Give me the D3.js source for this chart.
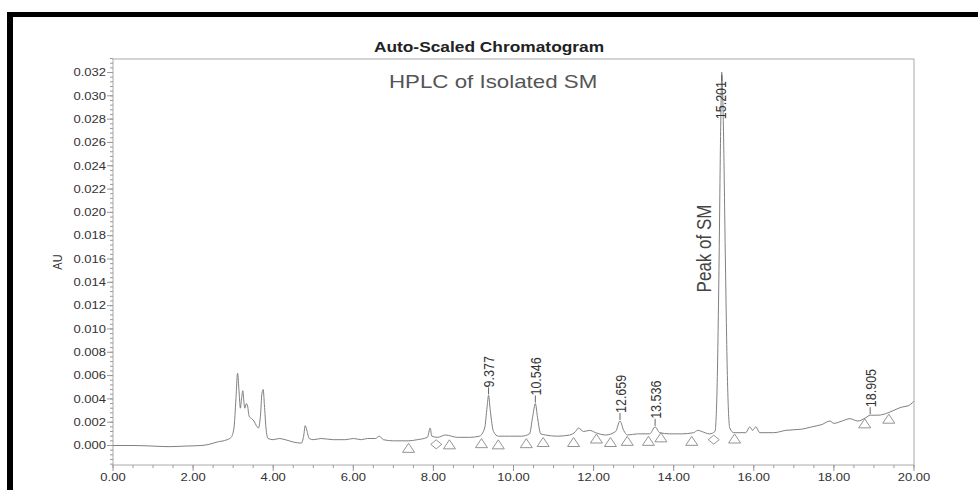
<!DOCTYPE html>
<html>
<head>
<meta charset="utf-8">
<script src="https://cdn.jsdelivr.net/npm/d3@7"></script>
<style>
  body { margin: 0; background: #fff; }
  svg { display: block; font-family: "Liberation Sans", Arial, sans-serif; }
</style>
</head>
<body>
<svg id="chart" width="978" height="490"></svg>
<script>
/************************************************************/
/**
    data
*/

// retention time (min) and absorbance (AU) of the trace
const times = [0.00, 0.50, 1.00, 1.40, 1.80, 2.20, 2.40, 2.60, 2.85, 2.95, 3.02, 3.07, 3.11, 3.15, 3.18,
  3.21, 3.24, 3.27, 3.29, 3.33, 3.36, 3.40, 3.46, 3.52, 3.58, 3.63, 3.68, 3.72, 3.75, 3.78, 3.82, 3.87,
  4.00, 4.15, 4.30, 4.50, 4.70, 4.76, 4.80, 4.84, 4.90, 5.00, 5.20, 5.50, 5.80, 6.00, 6.20, 6.35, 6.55,
  6.65, 6.75, 7.00, 7.37, 7.60, 7.85, 7.92, 7.96, 8.10, 8.30, 8.60, 8.90, 9.15, 9.28, 9.34, 9.377, 9.42,
  9.50, 9.62, 9.90, 10.20, 10.40, 10.48, 10.546, 10.60, 10.68, 10.80, 11.10, 11.40, 11.55, 11.62, 11.75,
  11.90, 12.05, 12.30, 12.55, 12.659, 12.75, 12.85, 13.10, 13.40, 13.536, 13.65, 13.90, 14.20, 14.50,
  14.60, 14.70, 14.90, 15.03, 15.08, 15.13, 15.17, 15.201, 15.24, 15.29, 15.34, 15.40, 15.50, 15.80,
  15.90, 15.97, 16.05, 16.15, 16.50, 16.80, 17.20, 17.45, 17.70, 17.90, 18.00, 18.20, 18.40, 18.60,
  18.80, 18.905, 19.10, 19.35, 19.55, 19.70, 19.85, 20.00];
const absorb = [0.0000, 0.0000, -0.00005, -0.0001, -0.00005, 0.0000, 0.0001, 0.0003, 0.0005, 0.0007, 0.0015,
  0.0040, 0.0062, 0.0045, 0.0032, 0.0040, 0.0047, 0.0037, 0.0032, 0.0036, 0.0034, 0.0025, 0.0023, 0.0021,
  0.0017, 0.0015, 0.0025, 0.0045, 0.0048, 0.0035, 0.0015, 0.0006, 0.0005, 0.0006, 0.0005, 0.0003, 0.0002,
  0.0008, 0.0017, 0.0013, 0.0006, 0.0005, 0.0006, 0.0005, 0.0005, 0.0006, 0.0005, 0.0006, 0.0006, 0.0008,
  0.0005, 0.0004, 0.0004, 0.0005, 0.0007, 0.0015, 0.0008, 0.0007, 0.0009, 0.0007, 0.0007, 0.0008, 0.0015,
  0.0033, 0.0043, 0.0030, 0.0012, 0.0008, 0.0008, 0.0008, 0.0010, 0.0025, 0.0036, 0.0024, 0.0010, 0.0009,
  0.0008, 0.0009, 0.0012, 0.0015, 0.0012, 0.0013, 0.0011, 0.0009, 0.0012, 0.0021, 0.0013, 0.0009, 0.0010,
  0.0010, 0.0016, 0.0011, 0.0010, 0.0010, 0.0011, 0.0013, 0.0012, 0.0010, 0.0012, 0.0045, 0.0150, 0.0265,
  0.0318, 0.0275, 0.0160, 0.0060, 0.0015, 0.0011, 0.0011, 0.0016, 0.0013, 0.0016, 0.0011, 0.0011, 0.0013,
  0.0014, 0.0016, 0.0018, 0.0021, 0.0019, 0.0021, 0.0023, 0.0021, 0.0024, 0.0026, 0.0026, 0.0028, 0.0031,
  0.0033, 0.0034, 0.0038];

// labelled peaks: retention time and apex height
const peakTimes = [9.377, 10.546, 12.659, 13.536, 15.201, 18.905];
const peakApex = [0.0043, 0.0036, 0.0021, 0.0016, 0.0318, 0.0026];

// integration start / end marks (t = triangle, d = diamond)
const markTimes = [7.38, 8.07, 8.40, 9.20, 9.62, 10.32, 10.74, 11.50, 12.07, 12.42, 12.84, 13.37, 13.68,
  14.45, 15.00, 15.52, 18.77, 19.37];
const markLevels = [-0.0002, 0.0001, 0.0001, 0.0002, 0.0001, 0.0002, 0.0003, 0.0003, 0.0006, 0.0003, 0.0004,
  0.0004, 0.0007, 0.0004, 0.0005, 0.0006, 0.0019, 0.0023];
const markKinds = ['t', 'd', 't', 't', 't', 't', 't', 't', 't', 't', 't', 't', 't', 't', 'd', 't', 't', 't'];

const xTicks = [0, 2, 4, 6, 8, 10, 12, 14, 16, 18, 20];
const yTicks = [0, 0.002, 0.004, 0.006, 0.008, 0.010, 0.012, 0.014, 0.016, 0.018, 0.020,
  0.022, 0.024, 0.026, 0.028, 0.030, 0.032];

/************************************************************/
/**
    Chromatogram class
*/

// the scanned print is wider than tall, so the text is stretched a bit
const SX = 1.24;

function Chromatogram(svg_id){
    this.svg = d3.select('#' + svg_id);
    this.left = 113; this.right = 914; this.top = 59; this.bottom = 465;
    this.x = d3.scaleLinear().domain([0, 20]).range([this.left, this.right]);
    this.y = d3.scaleLinear().domain([0, 0.032]).range([445.5, 72.5]);
}

Chromatogram.prototype.text = function(x, y, str, rotate){
    let t = 'translate(' + x + ',' + y + ') scale(' + SX + ',1)' + (rotate ? ' rotate(-90)' : '');
    return this.svg.append('text').attr('transform', t).text(str);
}

/************************************************************/
/**
    Chromatogram class - frame()
*/

Chromatogram.prototype.frame = function(){
    // black border of the scan
    this.svg.append('rect').attr('x', 7).attr('y', 12).attr('width', 971).attr('height', 5).attr('fill', '#000');
    this.svg.append('rect').attr('x', 7).attr('y', 12).attr('width', 6).attr('height', 478).attr('fill', '#000');

    this.svg.append('rect')
        .attr('x', this.left).attr('y', this.top)
        .attr('width', this.right - this.left).attr('height', this.bottom - this.top)
        .attr('fill', 'none').attr('stroke', '#aaa').attr('stroke-width', 1);

    this.text(489, 52, 'Auto-Scaled Chromatogram')
        .attr('text-anchor', 'middle').attr('font-size', 14).attr('font-weight', 'bold').attr('fill', '#222');
}

/************************************************************/
/**
    Chromatogram class - axes()
*/

Chromatogram.prototype.axes = function(){
    let x = this.x, y = this.y;
    let ax = this.svg.append('g').attr('stroke', '#999').attr('stroke-width', 1);

    // minor ticks every half minute, every 0.0004 AU
    d3.range(0, 20.01, 0.5).forEach(t => {
        ax.append('line').attr('x1', x(t)).attr('x2', x(t)).attr('y1', this.bottom).attr('y2', this.bottom + 3);
    });
    d3.range(-0.0016, 0.0333, 0.0004).forEach(v => {
        ax.append('line').attr('x1', this.left - 3).attr('x2', this.left).attr('y1', y(v)).attr('y2', y(v));
    });
    xTicks.forEach(t => {
        ax.append('line').attr('x1', x(t)).attr('x2', x(t)).attr('y1', this.bottom).attr('y2', this.bottom + 6);
        this.text(x(t), 481, t.toFixed(2))
            .attr('text-anchor', 'middle').attr('font-size', 10.5).attr('fill', '#333');
    });
    yTicks.forEach(v => {
        ax.append('line').attr('x1', this.left - 6).attr('x2', this.left).attr('y1', y(v)).attr('y2', y(v));
        this.text(this.left - 7, y(v) + 3.8, v.toFixed(3))
            .attr('text-anchor', 'end').attr('font-size', 10.5).attr('fill', '#333');
    });

    this.text(62, 262, 'AU', true)
        .attr('text-anchor', 'middle').attr('font-size', 11).attr('fill', '#333');
}

/************************************************************/
/**
    Chromatogram class - trace()
*/

Chromatogram.prototype.trace = function(){
    let x = this.x, y = this.y;
    let pts = times.map((t, i) => [t, absorb[i]]);
    let line = d3.line().x(d => x(d[0])).y(d => y(d[1])).curve(d3.curveMonotoneX);

    this.svg.append('path').datum(pts)
        .attr('d', line).attr('fill', 'none').attr('stroke', '#808080').attr('stroke-width', 1);

    // integration marks below the baseline
    markTimes.forEach((t, i) => {
        let d = markKinds[i] == 't' ? 'M-6,4.5L6,4.5L0,-4.5Z' : 'M-5.5,0L0,-4.5L5.5,0L0,4.5Z';
        this.svg.append('path')
            .attr('transform', 'translate(' + x(t) + ',' + y(markLevels[i]) + ')')
            .attr('d', d).attr('fill', 'none').attr('stroke', '#888').attr('stroke-width', 0.9);
    });
}

/************************************************************/
/**
    Chromatogram class - labels()
*/

Chromatogram.prototype.labels = function(){
    let x = this.x, y = this.y;

    peakTimes.forEach((t, i) => {
        let px = x(t), py = y(peakApex[i]);
        let lab = this.text(px, py - 8, t.toFixed(3), true)
            .attr('dy', '0.36em').attr('font-size', 12.5).attr('fill', '#333');
        let len = lab.node().getComputedTextLength();
        if (py - 8 - len < this.top + 14){
            // no room above the apex: print it under the frame top, leader on top
            let base = this.top + 22 + len;
            lab.attr('transform', 'translate(' + (px - 1) + ',' + base + ') scale(' + SX + ',1) rotate(-90)');
            this.svg.append('line').attr('x1', px).attr('x2', px).attr('y1', this.top + 13).attr('y2', this.top + 22)
                .attr('stroke', '#555').attr('stroke-width', 0.9);
        } else {
            this.svg.append('line').attr('x1', px).attr('x2', px).attr('y1', py - 1).attr('y2', py - 8)
                .attr('stroke', '#555').attr('stroke-width', 0.9);
        }
    });

    this.text(x(9.49), y(0.0307), 'HPLC of Isolated SM')
        .attr('text-anchor', 'middle').attr('font-size', 18).attr('fill', '#555');
    this.text(x(14.75), y(0.0169), 'Peak of SM', true)
        .attr('text-anchor', 'middle').attr('dy', '0.36em').attr('font-size', 17).attr('fill', '#444');
}

let chart = new Chromatogram('chart');
chart.frame();
chart.axes();
chart.trace();
chart.labels();
</script>
</body>
</html>
